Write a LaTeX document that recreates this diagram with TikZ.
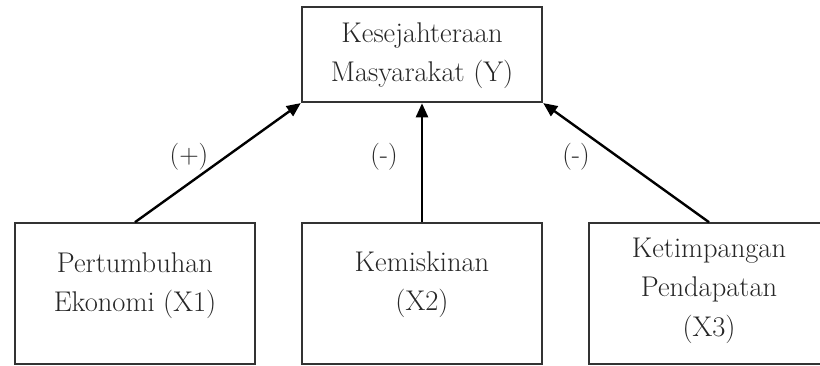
\documentclass[tikz,border=0pt]{standalone}
\usetikzlibrary{arrows.meta}
\begin{document}
\begin{tikzpicture}[x=1pt,y=-1pt,
  box/.style={draw=black!80, line width=1.6pt, minimum width=240pt, inner sep=0pt, fill=white},
  txt/.style={align=center, text=black!85, inner sep=0pt, font=\fontsize{28.5}{39.5}\selectfont},
  sign/.style={text=black!85, inner sep=0pt, font=\fontsize{27}{30}\selectfont},
  link/.style={line width=2.4pt, -{Triangle[length=14pt,width=12pt]}, shorten >=0.5pt}]
\useasboundingbox (0,0) rectangle (820,366);
\fill[white] (0,0) rectangle (820,366);
% boxes
\node[box, minimum height=95pt]  (Y)  at (422,54.5) {};
\node[box, minimum height=141pt] (X1) at (135,293.5) {};
\node[box, minimum height=141pt] (X2) at (422,293.5) {};
\node[box, minimum height=141pt] (X3) at (709,293.5) {};
% texts
\node[txt] (tY)  at (422,55.5)  {Kesejahteraan\\Masyarakat (Y)};
\node[txt] (tX1) at (135,285.5) {Pertumbuhan\\Ekonomi (X1)};
\node[txt] (tX2) at (422,284.5) {Kemiskinan\\(X2)};
\node[txt] (tX3) at (709,290.5) {Ketimpangan\\Pendapatan\\(X3)};
% connectors
\draw[link] (X1.north) -- (Y.south west);
\draw[link] (X2.north) -- (Y.south);
\draw[link] (X3.north) -- (Y.south east);
% signs
\node[sign] (s1) at (189,157) {(+)};
\node[sign] (s2) at (384,157) {(-)};
\node[sign] (s3) at (576,157) {(-)};
\end{tikzpicture}
\end{document}
